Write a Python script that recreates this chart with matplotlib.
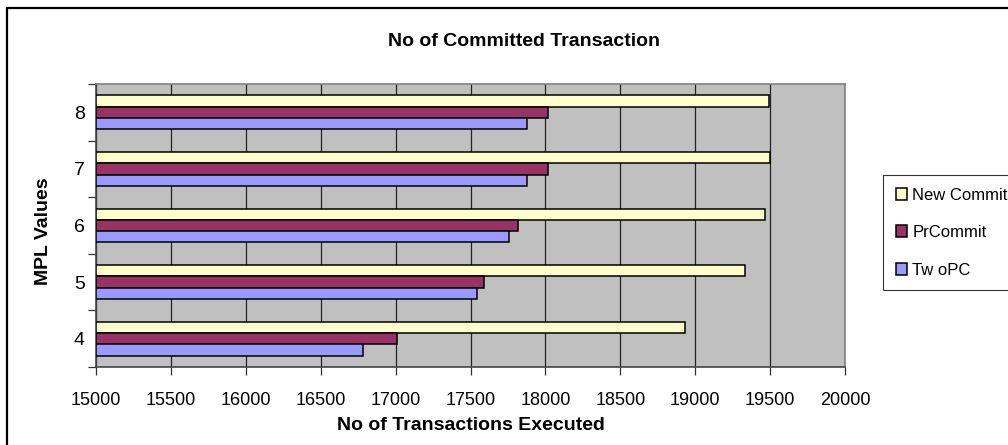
import numpy as np
import matplotlib
matplotlib.use("Agg")
import matplotlib.pyplot as plt
from matplotlib.patches import Rectangle

plt.rcParams['font.family'] = ['Liberation Sans', 'DejaVu Sans']

# data
mpl_values = ['4', '5', '6', '7', '8']
new_commit = [18935, 19335, 19465, 19500, 19490]
pr_commit = [17010, 17590, 17815, 18015, 18015]
two_pc = [16785, 17545, 17755, 17875, 17875]

series = [
    ('New Commit', new_commit, '#FFFFCC', 0.2),
    ('PrCommit', pr_commit, '#993366', 0.0),
    ('Tw oPC', two_pc, '#9999FF', -0.2),
]

W, H = 1008, 445
fig = plt.figure(figsize=(W / 100, H / 100), dpi=100)
fig.patch.set_facecolor('white')

# outer chart border (runs off the right and bottom edges)
fig.patches.append(Rectangle((7 / W, -0.05), 1.1, (H - 8) / H + 0.05,
                             transform=fig.transFigure, fill=False,
                             edgecolor='black', linewidth=1.6, zorder=0))

ax = fig.add_axes([96 / W, 1 - 367 / H, 749 / W, 283 / H])
ax.set_facecolor('#C0C0C0')

pos = np.arange(len(mpl_values))
base = 15000
for name, vals, color, off in series:
    ax.barh(pos + off, np.array(vals) - base, left=base, height=0.2,
            color=color, edgecolor='black', linewidth=1.1, label=name, zorder=3)

ax.set_xlim(15000, 20000)
ax.set_ylim(-0.5, len(mpl_values) - 0.5)
ax.set_xticks(np.arange(15000, 20001, 500))
ax.grid(axis='x', color='#222222', linewidth=0.9, zorder=1)
ax.set_axisbelow(True)

ax.set_yticks(pos)
ax.set_yticklabels(mpl_values)
ax.set_yticks(np.arange(-0.5, len(mpl_values), 1.0), minor=True)
ax.tick_params(axis='y', which='major', length=0, pad=8, labelsize=14)
ax.tick_params(axis='y', which='minor', length=6, width=0.9, color='#333333')
ax.tick_params(axis='x', which='major', length=6, width=0.9, color='#333333',
               pad=12, labelsize=13)

for s in ['top', 'right']:
    ax.spines[s].set_color('#808080')
    ax.spines[s].set_linewidth(1.2)
for s in ['bottom', 'left']:
    ax.spines[s].set_color('#444444')
    ax.spines[s].set_linewidth(1.2)

ax.set_xlabel('No of Transactions Executed', fontsize=14, fontweight='bold')
ax.xaxis.set_label_coords(0.5, (367 - 425) / 283)
ax.xaxis.label.set_va('center')
ax.set_ylabel('MPL Values', fontsize=14, fontweight='bold')
ax.yaxis.set_label_coords((44 - 96) / 749, 0.48)
ax.yaxis.label.set_va('center')

fig.text(524 / W, 1 - 42 / H, 'No of Committed Transaction', fontsize=14,
         fontweight='bold', ha='center', va='center')

leg = fig.legend(loc='upper left', bbox_to_anchor=(883 / W, 1 - 175 / H),
                 frameon=True, fancybox=False, edgecolor='black',
                 fontsize=12, handlelength=0.7, handleheight=0.7,
                 handletextpad=0.3, labelspacing=1.35, borderpad=0.75,
                 borderaxespad=0)
leg.get_frame().set_linewidth(0.8)

fig.savefig('out.png', dpi=100)
